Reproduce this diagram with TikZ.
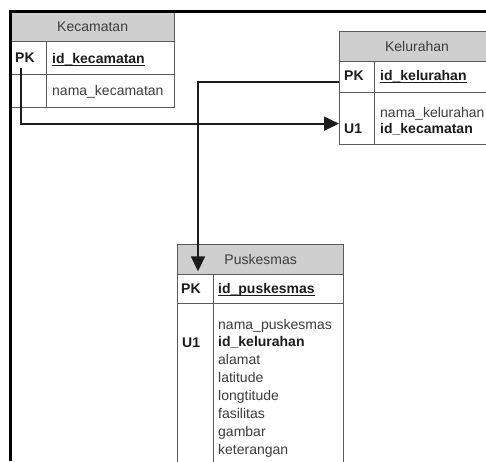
\documentclass[tikz,border=0pt]{standalone}
\usepackage{fontspec}
\setmainfont{Liberation Sans}
\usetikzlibrary{arrows.meta}
\definecolor{hdrgray}{HTML}{CFCFCF}
\definecolor{edgegray}{HTML}{5A5A5A}
\definecolor{txtgray}{HTML}{3C3C3C}
\definecolor{inkdark}{HTML}{1C1C1C}
% underlined primary-key field name
\newcommand\keyul[1]{\setbox0\hbox{#1}\rlap{\rule[-2.8pt]{\wd0}{1.1pt}}\box0}
\begin{document}
\begin{tikzpicture}[x=1pt,y=-1pt,
  tbl/.style={draw=edgegray, line width=1.3pt, inner sep=0pt, anchor=north west, fill=white},
  head/.style={tbl, fill=hdrgray},
  title/.style={inner sep=0pt, text=txtgray, font=\fontsize{14}{17}\selectfont},
  lbl/.style={inner sep=0pt, anchor=base west, text=txtgray, font=\fontsize{14}{17}\selectfont},
  keylbl/.style={lbl, text=inkdark, font=\fontsize{14}{17}\selectfont\bfseries},
  link/.style={draw=inkdark, line width=1.8pt, -{Triangle[length=15pt,width=14pt]}}
]
\useasboundingbox (0,0) rectangle (486,461);
\clip (0,0) rectangle (486,461);

% ---- Kecamatan ----
\node[head, minimum width=164pt, minimum height=30pt] (kec-head) at (10,11) {};
\node[tbl, minimum width=36pt, minimum height=33pt] (kec-k1) at (10,41) {};
\node[tbl, minimum width=128pt, minimum height=33pt] (kec-f1) at (46,41) {};
\node[tbl, minimum width=36pt, minimum height=33pt] (kec-k2) at (10,74) {};
\node[tbl, minimum width=128pt, minimum height=33pt] (kec-f2) at (46,74) {};
\node[title] (kec-title) at (kec-head.center) {Kecamatan};
\node[keylbl] (kec-pk) at (15,62) {PK};
\node[keylbl] (kec-id) at (52,63) {\keyul{id\_kecamatan}};
\node[lbl] (kec-nama) at (52,95) {nama\_kecamatan};

% ---- Kelurahan ----
\node[head, minimum width=160pt, minimum height=30pt] (kel-head) at (339,31) {};
\node[tbl, minimum width=35pt, minimum height=31pt] (kel-k1) at (339,61) {};
\node[tbl, minimum width=125pt, minimum height=31pt] (kel-f1) at (374,61) {};
\node[tbl, minimum width=35pt, minimum height=52pt] (kel-k2) at (339,92) {};
\node[tbl, minimum width=125pt, minimum height=52pt] (kel-f2) at (374,92) {};
\node[title] (kel-title) at (417,46) {Kelurahan};
\node[keylbl] (kel-pk) at (344,80) {PK};
\node[keylbl] (kel-id) at (380,80) {\keyul{id\_kelurahan}};
\node[lbl] (kel-nama) at (380,117) {nama\_kelurahan};
\node[keylbl] (kel-u1) at (344,133) {U1};
\node[keylbl] (kel-fk) at (380,133) {id\_kecamatan};

% ---- Puskesmas ----
\node[head, minimum width=166pt, minimum height=30pt] (pus-head) at (177,244) {};
\node[tbl, minimum width=36pt, minimum height=29pt] (pus-k1) at (177,274) {};
\node[tbl, minimum width=130pt, minimum height=29pt] (pus-f1) at (213,274) {};
\node[tbl, minimum width=36pt, minimum height=190pt] (pus-k2) at (177,303) {};
\node[tbl, minimum width=130pt, minimum height=190pt] (pus-f2) at (213,303) {};
\node[title] (pus-title) at (pus-head.center) {Puskesmas};
\node[keylbl] (pus-pk) at (181,293) {PK};
\node[keylbl] (pus-id) at (218,293) {\keyul{id\_puskesmas}};
\node[keylbl] (pus-u1) at (182,347) {U1};
\node[lbl] (pus-a1) at (218,329) {nama\_puskesmas};
\node[keylbl] (pus-a2) at (218,346.9) {id\_kelurahan};
\foreach \t [count=\i from 3] in {alamat,latitude,longtitude,fasilitas,gambar,keterangan}
  \node[lbl] (pus-a\i) at (218,{329+17.86*(\i-1)}) {\t};

% ---- relationships ----
\coordinate (kec-src) at (21,68);
\draw[link] (kec-src) |- ([yshift=-5pt]kel-k2.west);
\draw[link] ([yshift=-4.5pt]kel-k1.west) -| ([xshift=21pt,yshift=4pt]pus-head.south west);

% ---- page frame ----
\draw[line width=3pt, black] (10,461) -- (10,11) -- (486,11);
\end{tikzpicture}
\end{document}
